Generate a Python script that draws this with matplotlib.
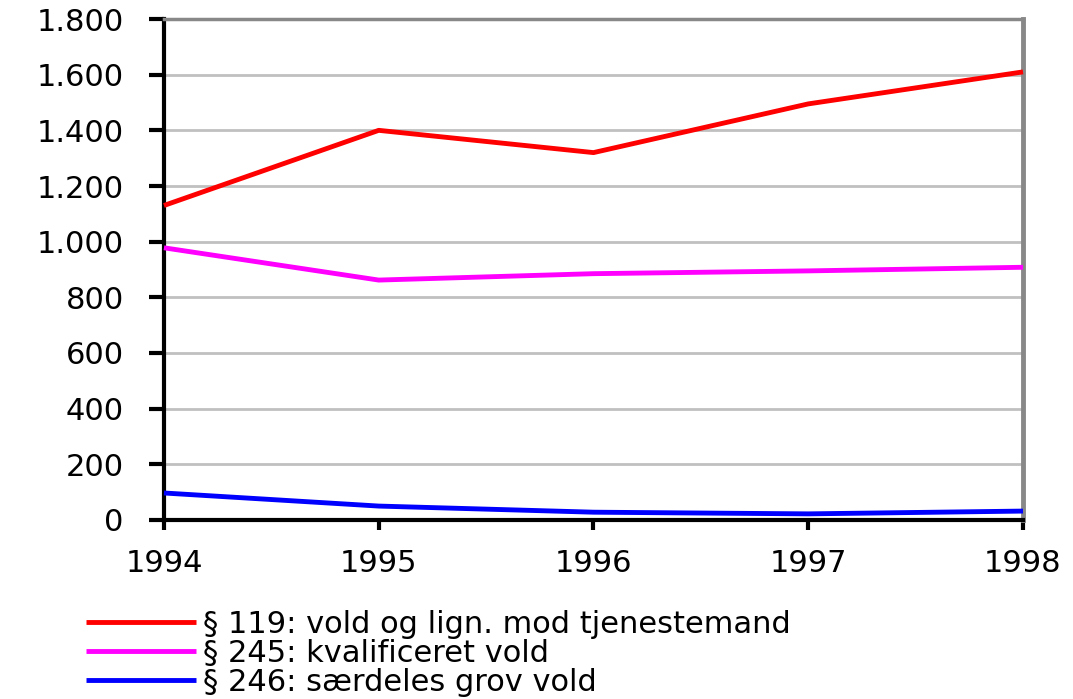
import matplotlib
matplotlib.use("Agg")
import matplotlib.pyplot as plt
from matplotlib.ticker import FuncFormatter

years = [1994, 1995, 1996, 1997, 1998]
vold_119 = [1130, 1400, 1320, 1495, 1610]
vold_245 = [978, 862, 885, 895, 908]
vold_246 = [97, 50, 28, 22, 32]

labels = [
    "§ 119: vold og lign. mod tjenestemand",
    "§ 245: kvalificeret vold",
    "§ 246: særdeles grov vold",
]
colors = ["#ff0000", "#ff00ff", "#0000ff"]

plt.rcParams['font.family'] = ['DejaVu Sans']

fig = plt.figure(figsize=(10.73, 6.99), dpi=100)
ax = fig.add_axes([0.1528, 0.2561, 0.8006, 0.7167])

for vals, lab, col in zip([vold_119, vold_245, vold_246], labels, colors):
    ax.plot(years, vals, color=col, lw=3.5, label=lab, solid_capstyle='butt', clip_on=False, zorder=3)

ax.set_xlim(1994, 1998)
ax.set_ylim(0, 1800)
ax.set_yticks(range(0, 1801, 200))
ax.set_xticks(years)
ax.yaxis.set_major_formatter(FuncFormatter(lambda v, p: f"{int(v):,}".replace(",", ".")))

# gridlines
for y in range(200, 1800, 200):
    ax.axhline(y, color="#c0c0c0", lw=2, zorder=1)

ax.spines['left'].set_color('black')
ax.spines['left'].set_linewidth(3)
ax.spines['bottom'].set_color('black')
ax.spines['bottom'].set_linewidth(3)
ax.spines['top'].set_color('#888888')
ax.spines['top'].set_linewidth(2.5)
ax.spines['right'].set_color('#888888')
ax.spines['right'].set_linewidth(3.5)

ax.tick_params(axis='y', length=11, width=3, direction='out', labelsize=22, pad=18)
ax.tick_params(axis='x', length=7, width=3, direction='out', labelsize=22, pad=14)

leg = fig.legend(loc='upper left', bbox_to_anchor=(0.08, 0.128), bbox_transform=fig.transFigure,
                 frameon=False, fontsize=22, handlelength=3.6, handletextpad=0.25,
                 labelspacing=0.0, borderpad=0, borderaxespad=0)

fig.savefig("out.png", dpi=100)
